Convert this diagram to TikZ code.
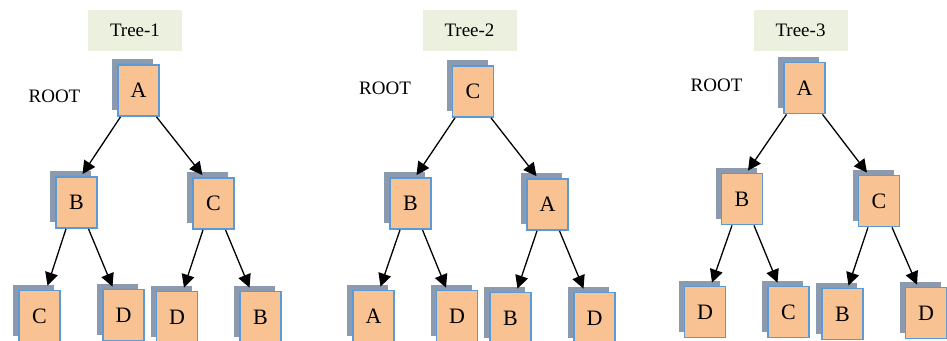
\documentclass[tikz,border=0pt]{standalone}
\usepackage{fontspec}
\setmainfont{Liberation Serif}
\usetikzlibrary{arrows.meta,shadows,calc}
\definecolor{peach}{HTML}{F8C292}
\definecolor{boxblue}{HTML}{5B9BD5}
\definecolor{shadowgray}{HTML}{8C9AB0}
\definecolor{titlegreen}{HTML}{EBF0DF}
\begin{document}
\begin{tikzpicture}[x=1pt,y=-1pt,
  tbox/.style={draw=boxblue, line width=1.8pt, fill=peach, minimum width=41pt, minimum height=51pt, inner sep=0pt,
    font=\fontsize{22}{22}\selectfont,
    general shadow={draw=none, fill=shadowgray, shadow xshift=-6pt, shadow yshift=6pt}},
  titlebox/.style={fill=titlegreen, minimum width=94pt, minimum height=41pt, inner sep=0pt, font=\fontsize{19}{19}\selectfont},
  rootlabel/.style={font=\fontsize{19}{19}\selectfont, inner sep=0pt},
  arr/.style={draw=black, line width=1.3pt, -{Triangle[length=13pt,width=13pt]}}]
\useasboundingbox (0,0) rectangle (947,340);

% ---------- Tree 1 ----------
\node[titlebox] (t1title) at (135,30.5) {\raisebox{-3.5pt}{Tree-1}\hspace{13pt}};
\node[rootlabel] (t1root) at (54.5,96) {ROOT};
\node[tbox] (t1A) at (138.5,90.5) {A};
\node[tbox] (t1B) at (76.5,202.5) {B};
\node[tbox] (t1C) at (213.5,203.5) {C};
\node[tbox] (t1BC) at (39.5,316) {C};
\node[tbox] (t1BD) at (123.5,315) {D};
\node[tbox] (t1CD) at (177,317) {D};
\node[tbox] (t1CB) at (260.5,317) {B};
\draw[arr] ($(t1A.south)+(-18,0)$) -- ($(t1B.north)+(6,-2)$);
\draw[arr] ($(t1A.south)+(18,0)$) -- ($(t1C.north)+(-11,-2)$);
\draw[arr] ($(t1B.south)+(-10.5,0)$) -- ($(t1BC.north)+(8,-4)$);
\draw[arr] ($(t1B.south)+(12,0)$) -- ($(t1BD.north)+(-11,-2)$);
\draw[arr] ($(t1C.south)+(-10.5,0)$) -- ($(t1CD.north)+(7,-3)$);
\draw[arr] ($(t1C.south)+(12,0)$) -- ($(t1CB.north)+(-11,-3)$);

% ---------- Tree 2 ----------
\node[titlebox] (t2title) at (469.5,30.5) {\raisebox{-3.5pt}{Tree-2}\hspace{11pt}};
\node[rootlabel] (t2root) at (385,88) {ROOT};
\node[tbox] (t2C) at (473,91.5) {C};
\node[tbox] (t2B) at (410.5,203.5) {B};
\node[tbox] (t2A) at (547.5,204.5) {A};
\node[tbox] (t2BA) at (373.5,316) {A};
\node[tbox] (t2BD) at (457,316) {D};
\node[tbox] (t2AB) at (510.5,318) {B};
\node[tbox] (t2AD) at (594.5,318) {D};
\draw[arr] ($(t2C.south)+(-18,0)$) -- ($(t2B.north)+(6,-2)$);
\draw[arr] ($(t2C.south)+(18,0)$) -- ($(t2A.north)+(-11,-2)$);
\draw[arr] ($(t2B.south)+(-10.5,0)$) -- ($(t2BA.north)+(7,-3)$);
\draw[arr] ($(t2B.south)+(12,0)$) -- ($(t2BD.north)+(-11,-2)$);
\draw[arr] ($(t2A.south)+(-10.5,0)$) -- ($(t2AB.north)+(7,-3)$);
\draw[arr] ($(t2A.south)+(12,0)$) -- ($(t2AD.north)+(-11,-3)$);

% ---------- Tree 3 ----------
\node[titlebox] (t3title) at (800.5,30.5) {\raisebox{-3.5pt}{Tree-3}\hspace{12pt}};
\node[rootlabel] (t3root) at (716.5,85) {ROOT};
\node[tbox] (t3A) at (804.5,88) {A};
\node[tbox] (t3B) at (742,199) {B};
\node[tbox] (t3C) at (879,201) {C};
\node[tbox] (t3BD) at (705,312) {D};
\node[tbox] (t3BC) at (788.5,312) {C};
\node[tbox] (t3CB) at (842.5,314) {B};
\node[tbox] (t3CD) at (926,313) {D};
\draw[arr] ($(t3A.south)+(-18,0)$) -- ($(t3B.north)+(6,-2)$);
\draw[arr] ($(t3A.south)+(18,0)$) -- ($(t3C.north)+(-12,-2)$);
\draw[arr] ($(t3B.south)+(-10,0)$) -- ($(t3BD.north)+(7,-3)$);
\draw[arr] ($(t3B.south)+(12,0)$) -- ($(t3BC.north)+(-11,-3)$);
\draw[arr] ($(t3C.south)+(-11,0)$) -- ($(t3CB.north)+(6,-2)$);
\draw[arr] ($(t3C.south)+(13,0)$) -- ($(t3CD.north)+(-9,-2)$);
\end{tikzpicture}
\end{document}
